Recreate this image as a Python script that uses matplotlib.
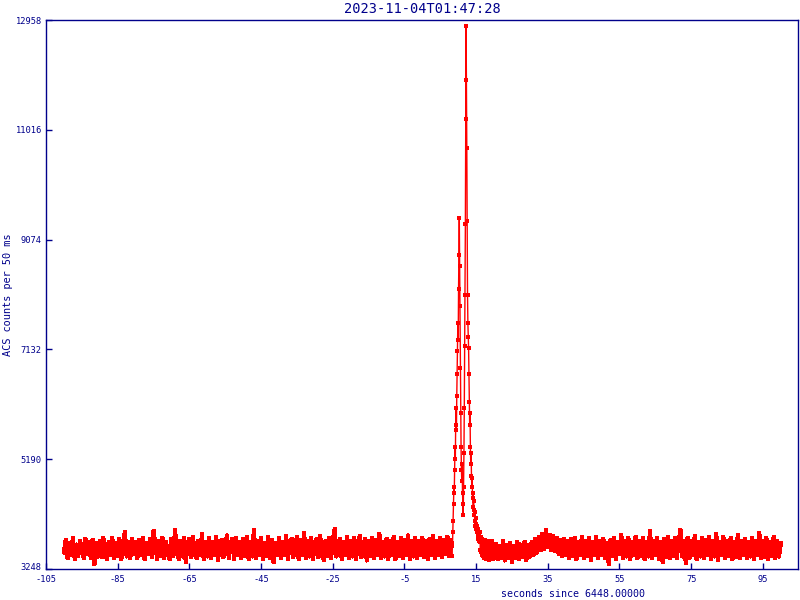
import numpy as np
import matplotlib
matplotlib.use('Agg')
import matplotlib.pyplot as plt
import matplotlib.transforms as mtransforms

# ACS counts per 50 ms (background thinned to 0.5 s steps)
pre_t0, pre_step = -100.0, 0.5
pre_counts = [
    3540, 3760, 3440, 3700, 3500, 3790, 3430, 3680, 3480, 3750, 3560, 3450, 3780, 3520, 3720, 3440, 3760, 3330, 3700, 3470,
    3740, 3460, 3800, 3520, 3430, 3730, 3500, 3790, 3450, 3700, 3480, 3770, 3420, 3690, 3900, 3470, 3720, 3440, 3780, 3510,
    3730, 3450, 3760, 3490, 3800, 3420, 3700, 3510, 3780, 3460, 3920, 3680, 3430, 3750, 3480, 3800, 3450, 3720, 3500, 3420,
    3770, 3480, 3940, 3530, 3430, 3750, 3470, 3800, 3380, 3700, 3780, 3460, 3820, 3500, 3440, 3750, 3490, 3860, 3430, 3720,
    3470, 3790, 3450, 3720, 3500, 3810, 3410, 3700, 3760, 3460, 3710, 3840, 3440, 3680, 3770, 3430, 3800, 3490, 3730, 3450,
    3770, 3480, 3810, 3430, 3720, 3470, 3930, 3450, 3750, 3500, 3790, 3420, 3700, 3480, 3820, 3450, 3760, 3370, 3710, 3490,
    3790, 3440, 3730, 3490, 3830, 3430, 3710, 3780, 3460, 3700, 3810, 3420, 3760, 3490, 3880, 3450, 3740, 3470, 3790, 3430,
    3710, 3780, 3460, 3830, 3500, 3410, 3750, 3480, 3800, 3440, 3730, 3950, 3470, 3700, 3780, 3430, 3720, 3490, 3820, 3450,
    3750, 3470, 3790, 3430, 3710, 3830, 3460, 3700, 3770, 3400, 3740, 3480, 3800, 3440, 3760, 3500, 3870, 3450, 3720, 3470,
    3780, 3430, 3740, 3500, 3820, 3420, 3720, 3480, 3790, 3450, 3760, 3500, 3840, 3430, 3740, 3470, 3790, 3450, 3750, 3500,
    3800, 3460, 3740, 3420, 3780, 3500, 3830, 3450, 3740, 3490, 3790, 3460, 3760, 3520, 3810, 3480,
]

# burst, 0.1 s steps from 8.0 s to 20.0 s
burst_t0, burst_step = 8.0, 0.1
burst_counts = [
    3620, 3760, 3480, 3700, 3650, 3900, 4100, 4400, 4700, 4600,
    5000, 5400, 5200, 5800, 6100, 5700, 6300, 6700, 7100, 7600,
    7300, 8200, 8800, 9450, 8600, 7900, 6800, 6000, 5400, 5000,
    4800, 5100, 4600, 4400, 4200, 4700, 5300, 6100, 7200, 8100,
    9350, 11200, 12850, 11900, 10700, 9400, 8100, 7600, 7350, 7150,
    6700, 6200, 5800, 6000, 5400, 5100, 5300, 4900, 4700, 4850,
    4500, 4600, 4350, 4450, 4200, 4300, 4100, 4250, 4000, 4150,
    3950, 4050, 3900, 4000, 3850, 3950, 3780, 3900, 3750, 3850,
    3720, 3900, 3580, 3820, 3540, 3780, 3500, 3760, 3620, 3470,
    3760, 3500, 3720, 3440, 3700, 3480, 3760, 3420, 3690, 3470,
    3730, 3430, 3680, 3740, 3460, 3700, 3410, 3660, 3720, 3440,
    3650, 3720, 3420, 3680, 3460, 3740, 3430, 3690, 3450, 3660,
    3500,
]

post_t0, post_step = 20.5, 0.5
post_counts = [
    3690, 3420, 3650, 3450, 3740, 3400, 3670, 3440, 3700, 3380, 3660, 3450, 3730, 3420, 3680, 3460, 3720, 3410, 3670, 3470,
    3720, 3500, 3780, 3540, 3820, 3580, 3870, 3600, 3930, 3640, 3850, 3590, 3830, 3560, 3790, 3520, 3760, 3480, 3770, 3500,
    3740, 3450, 3770, 3480, 3800, 3420, 3720, 3500, 3820, 3450, 3750, 3480, 3790, 3410, 3720, 3490, 3810, 3440, 3740, 3500,
    3780, 3450, 3700, 3340, 3760, 3480, 3800, 3430, 3730, 3510, 3850, 3450, 3750, 3470, 3790, 3420, 3720, 3490, 3820, 3440,
    3740, 3480, 3800, 3420, 3730, 3470, 3920, 3450, 3750, 3490, 3790, 3430, 3720, 3380, 3770, 3460, 3820, 3440, 3740, 3480,
    3790, 3450, 3720, 3940, 3470, 3750, 3360, 3800, 3440, 3740, 3490, 3830, 3420, 3730, 3470, 3790, 3450, 3760, 3490, 3820,
    3430, 3740, 3470, 3860, 3410, 3720, 3490, 3810, 3450, 3750, 3480, 3790, 3420, 3730, 3460, 3850, 3440, 3740, 3490, 3780,
    3450, 3720, 3470, 3800, 3420, 3750, 3490, 3880, 3440, 3740, 3460, 3790, 3430, 3720, 3480, 3810, 3450, 3750, 3470, 3700,
]

yticks = [3248, 5190, 7132, 9074, 11016, 12958]
xticks = [-105, -85, -65, -45, -25, -5, 15, 35, 55, 75, 95]

t_pre = pre_t0 + pre_step * np.arange(len(pre_counts))
t_burst = burst_t0 + burst_step * np.arange(len(burst_counts))
t_post = post_t0 + post_step * np.arange(len(post_counts))
t = np.concatenate([t_pre, t_burst, t_post])
counts = np.array(pre_counts + burst_counts + post_counts)

navy = '#00008b'
plt.rcParams['font.family'] = ['DejaVu Sans Mono']
plt.rcParams['axes.unicode_minus'] = False

fig = plt.figure(figsize=(8, 6), dpi=100)
ax = fig.add_axes([46 / 800, 1 - 569 / 600, 752 / 800, 549 / 600])

# full curve thin, then the thinned background a bit heavier so the band reads solid
ax.plot(t, counts, color='red', lw=1, marker='s', ms=2.6, mew=0)
ax.plot(t_pre, pre_counts, color='red', lw=2.3, marker='s', ms=3, mew=0, antialiased=False)
ax.plot(t_post, post_counts, color='red', lw=2.3, marker='s', ms=3, mew=0, antialiased=False)

ax.set_xlim(-105, 104.8)
ax.set_ylim(3248, 12958)
ax.set_xticks(xticks)
ax.set_yticks(yticks)
ax.tick_params(direction='in', length=4, width=1, colors=navy, labelsize=6.3)
ax.tick_params(axis='x', pad=4)
ax.tick_params(axis='y', pad=3)
for s in ax.spines.values():
    s.set_color(navy)
    s.set_linewidth(1)

# nudge the lowest y label up so it doesn't collide with "-105"
lab0 = ax.get_yticklabels()[0]
lab0.set_transform(lab0.get_transform() + mtransforms.ScaledTranslation(0, 2 / 100, fig.dpi_scale_trans))

fig.text(422 / 800, 1 - 9 / 600, '2023-11-04T01:47:28', color=navy, fontsize=9.8,
         ha='center', va='center')
fig.text(573 / 800, 1 - 594 / 600, 'seconds since 6448.00000', color=navy, fontsize=7.2,
         ha='center', va='center')
fig.text(8 / 800, 1 - 295 / 600, 'ACS counts per 50 ms', color=navy, fontsize=7.4,
         ha='center', va='center', rotation=90)

fig.savefig('out.png', dpi=100)
